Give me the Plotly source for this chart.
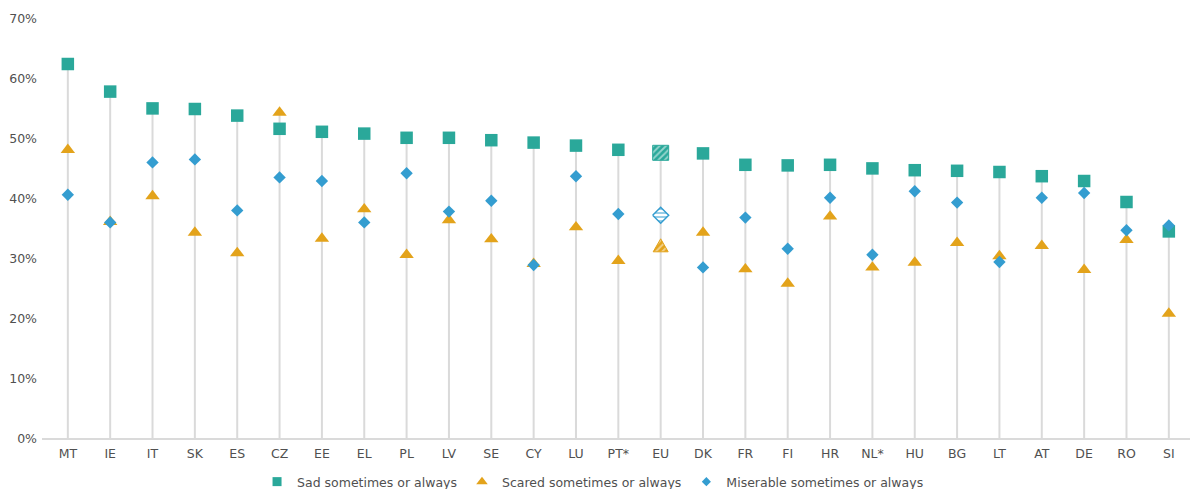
import plotly.graph_objects as go

# Share of children reporting each feeling, by country (%)
countries = ["MT", "IE", "IT", "SK", "ES", "CZ", "EE", "EL", "PL", "LV", "SE", "CY", "LU", "PT*",
             "EU", "DK", "FR", "FI", "HR", "NL*", "HU", "BG", "LT", "AT", "DE", "RO", "SI"]
sad = [62.5, 57.9, 55.1, 55.0, 53.9, 51.7, 51.2, 50.9, 50.2, 50.2, 49.8, 49.4, 48.9, 48.2,
       47.7, 47.6, 45.7, 45.6, 45.7, 45.1, 44.8, 44.7, 44.5, 43.8, 43.0, 39.5, 34.6]
scared = [48.2, 36.2, 40.5, 34.4, 31.0, 54.4, 33.4, 38.3, 30.7, 36.5, 33.3, 29.2, 35.3, 29.7,
          32.2, 34.4, 28.3, 25.9, 37.1, 28.6, 29.4, 32.7, 30.5, 32.2, 28.2, 33.2, 20.9]
miserable = [40.7, 36.1, 46.1, 46.6, 38.1, 43.6, 43.0, 36.1, 44.3, 37.9, 39.7, 29.0, 43.8, 37.5,
             37.3, 28.6, 36.9, 31.7, 40.2, 30.7, 41.3, 39.4, 29.5, 40.2, 41.0, 34.8, 35.6]
y_ticks = [0, 10, 20, 30, 40, 50, 60, 70]

TEAL = "#2AA89A"
GOLD = "#E3A31B"
BLUE = "#349DD0"
STEM = "#DADADA"
TEXT = "#505050"
FONT = "Verdana, DejaVu Sans, sans-serif"

# Figure geometry (used to size the hatched EU symbols in data units)
W, H = 1193, 489
ML, MR, MT_, MB = 42, 3, 19, 50
X_RANGE = [-0.61, 26.5]
Y_RANGE = [0, 70]
px_x = (W - ML - MR) / (X_RANGE[1] - X_RANGE[0])
px_y = (H - MT_ - MB) / (Y_RANGE[1] - Y_RANGE[0])

xs = list(range(len(countries)))
eu = countries.index("EU")


def skip_eu(values):
    return [None if i == eu else v for i, v in enumerate(values)]


fig = go.Figure()

# Vertical stems from 0 up to the highest of the three values
tops = [max(a, b, c) for a, b, c in zip(sad, scared, miserable)]
fig.add_trace(go.Scatter(
    x=xs, y=tops, mode="markers",
    marker=dict(size=1, color="rgba(0,0,0,0)"),
    error_y=dict(type="data", symmetric=False, array=[0] * len(tops), arrayminus=tops,
                 color=STEM, thickness=2, width=0),
    showlegend=False, hoverinfo="skip",
))

# Country markers
fig.add_trace(go.Scatter(x=xs, y=skip_eu(sad), mode="markers", showlegend=False,
                         marker=dict(symbol="square", size=12.5, color=TEAL)))
fig.add_trace(go.Scatter(x=xs, y=skip_eu(scared), mode="markers", showlegend=False,
                         marker=dict(symbol="triangle-up", size=12.5, color=GOLD)))
fig.add_trace(go.Scatter(x=xs, y=skip_eu(miserable), mode="markers", showlegend=False,
                         marker=dict(symbol="diamond", size=9.5, color=BLUE)))


# Hatched EU average symbols
def poly(cx, cy, pts):
    xx = [cx + dx / px_x for dx, dy in pts] + [cx + pts[0][0] / px_x]
    yy = [cy + dy / px_y for dx, dy in pts] + [cy + pts[0][1] / px_y]
    return xx, yy


sq_x, sq_y = poly(eu, sad[eu], [(-8, -7.5), (8, -7.5), (8, 7.5), (-8, 7.5)])
fig.add_trace(go.Scatter(
    x=sq_x, y=sq_y, mode="lines", fill="toself", showlegend=False, hoverinfo="skip",
    line=dict(color=TEAL, width=1), fillcolor=TEAL,
    fillpattern=dict(shape="/", bgcolor=TEAL, fgcolor="white", size=4.5, solidity=0.4),
))
tr_x, tr_y = poly(eu, scared[eu], [(-7.5, -6), (7.5, -6), (0, 7)])
fig.add_trace(go.Scatter(
    x=tr_x, y=tr_y, mode="lines", fill="toself", showlegend=False, hoverinfo="skip",
    line=dict(color=GOLD, width=1), fillcolor=GOLD,
    fillpattern=dict(shape="/", bgcolor=GOLD, fgcolor="white", size=4.5, solidity=0.4),
))
di_x, di_y = poly(eu, miserable[eu], [(-8, 0), (0, -8), (8, 0), (0, 8)])
fig.add_trace(go.Scatter(
    x=di_x, y=di_y, mode="lines", fill="toself", showlegend=False, hoverinfo="skip",
    line=dict(color=BLUE, width=1.5), fillcolor="white",
    fillpattern=dict(shape="-", bgcolor="white", fgcolor=BLUE, size=4, solidity=0.5),
))

# Legend entries
for name, sym, size, col in [("Sad sometimes or always", "square", 9, TEAL),
                             ("Scared sometimes or always", "triangle-up", 10, GOLD),
                             ("Miserable sometimes or always", "diamond", 7, BLUE)]:
    fig.add_trace(go.Scatter(x=[None], y=[None], mode="markers", name=name,
                             marker=dict(symbol=sym, size=size, color=col)))

fig.update_layout(
    width=W, height=H,
    margin=dict(l=ML, r=MR, t=MT_, b=MB),
    paper_bgcolor="white", plot_bgcolor="white",
    font=dict(family=FONT, size=12, color=TEXT),
    legend=dict(orientation="h", xref="paper", x=0.48, xanchor="center",
                yref="container", y=(H - 482) / H, yanchor="middle",
                font=dict(size=12.5, color=TEXT), itemwidth=30, tracegroupgap=0),
    xaxis=dict(range=X_RANGE, tickmode="array", tickvals=xs, ticktext=countries,
               showgrid=False, zeroline=False, showline=False, ticks="",
               ticklabelstandoff=5,
               tickfont=dict(size=12.5, color=TEXT), fixedrange=True),
    yaxis=dict(range=Y_RANGE, tickmode="array", tickvals=y_ticks,
               ticktext=[f"{v}%" for v in y_ticks],
               showgrid=False, zeroline=True, zerolinecolor=STEM, zerolinewidth=1.5,
               showline=False, ticks="", ticklabelstandoff=4,
               tickfont=dict(size=12.5, color=TEXT), fixedrange=True),
    showlegend=True,
)

fig.write_html("out.html")
